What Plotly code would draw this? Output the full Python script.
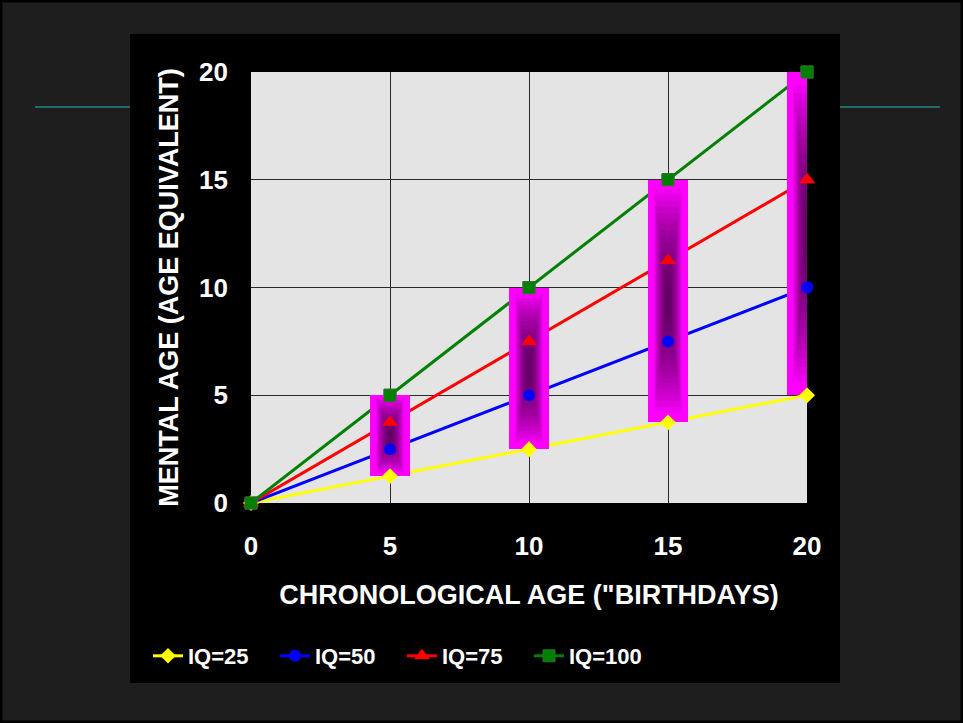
import plotly.graph_objects as go

# ---- data ----
chron_age = [0, 5, 10, 15, 20]
iq25 = [0, 1.25, 2.5, 3.75, 5]
iq50 = [0, 2.5, 5, 7.5, 10]
iq75 = [0, 3.75, 7.5, 11.25, 15]
iq100 = [0, 5, 10, 15, 20]
bar_x = [5, 10, 15, 20]
series_names = ["IQ=25", "IQ=50", "IQ=75", "IQ=100"]
tick_vals = [0, 5, 10, 15, 20]

# ---- layout geometry (pixels) ----
W, H = 963, 723
PL, PR, PT, PB = 251, 807, 72, 503
pw, ph = PR - PL, PB - PT


def px_x(p):
    return (p - PL) / pw


def px_y(p):
    return (PB - p) / ph


FONT = "Arial, Liberation Sans, sans-serif"
series = [iq25, iq50, iq75, iq100]
colors = ["#ffff00", "#0000ff", "#ff0000", "#008000"]
symbols = ["diamond", "circle", "triangle-up", "square"]
msizes = [12, 12, 14, 12]
mlines = [dict(width=0), dict(width=0), dict(width=0), dict(width=1, color="#2f6f2f")]

fig = go.Figure()

# lines (underneath the bars) on the main axes
for s, c, sym, ms, ml, nm in zip(series, colors, symbols, msizes, mlines, series_names):
    fig.add_trace(go.Scatter(
        x=chron_age, y=s, mode="lines+markers", name=nm,
        line=dict(color=c, width=3),
        marker=dict(symbol=sym, size=ms, color=c, line=ml),
        xaxis="x", yaxis="y", cliponaxis=False,
    ))

# high-low bars on overlay axes
low = iq25[1:]
high = iq100[1:]
BW = 1.44
fig.add_trace(go.Bar(
    x=bar_x, y=[h - l for h, l in zip(high, low)], base=low, width=BW,
    marker=dict(color="#ff00ff", line=dict(width=0)),
    showlegend=False, hoverinfo="skip", xaxis="x2", yaxis="y2",
))
# gradient shading (dark purple centre)
n_layers = 18
mids = [(h + l) / 2 for h, l in zip(high, low)]
for k in range(n_layers):
    f = 0.92 - k * 0.048
    hts = [(h - l) * f for h, l in zip(high, low)]
    fig.add_trace(go.Bar(
        x=bar_x, y=hts, base=[m - t / 2 for m, t in zip(mids, hts)], width=BW * f * 0.75,
        marker=dict(color="#3a003a", opacity=0.075, line=dict(width=0)),
        showlegend=False, hoverinfo="skip", xaxis="x2", yaxis="y2",
    ))

# markers above bars
for s, c, sym, ms, ml in zip(series, colors, symbols, msizes, mlines):
    fig.add_trace(go.Scatter(
        x=chron_age, y=s, mode="markers", showlegend=False,
        marker=dict(symbol=sym, size=ms, color=c, line=ml),
        xaxis="x2", yaxis="y2", cliponaxis=False,
    ))

shapes = [
    # outer frame
    dict(type="rect", xref="paper", yref="paper", x0=px_x(0), x1=px_x(W), y0=px_y(H), y1=px_y(0),
         line=dict(color="#000000", width=5), fillcolor="rgba(0,0,0,0)", layer="below"),
    # teal line
    dict(type="line", xref="paper", yref="paper", x0=px_x(35), x1=px_x(940), y0=px_y(107), y1=px_y(107),
         line=dict(color="#2ab5b5", width=1), layer="below"),
    # black chart panel
    dict(type="rect", xref="paper", yref="paper", x0=px_x(130), x1=px_x(840), y0=px_y(683), y1=px_y(34),
         line=dict(width=0), fillcolor="#000000", layer="below"),
    # plot area (light gray)
    dict(type="rect", xref="paper", yref="paper", x0=0, x1=1, y0=0, y1=1,
         line=dict(width=0), fillcolor="#e4e4e4", layer="below"),
]

axis_common = dict(range=[0, 20], tickvals=tick_vals, showline=False, zeroline=False,
                   fixedrange=True)
tfont = dict(size=26, family=FONT, color="#ffffff", weight="bold")
ttfont = dict(size=27, family=FONT, color="#ffffff", weight="bold")

fig.update_layout(
    width=W, height=H,
    margin=dict(l=PL, r=W - PR, t=PT, b=H - PB, pad=0),
    paper_bgcolor="#1e1e1e",
    plot_bgcolor="#e4e4e4",
    barmode="overlay",
    bargap=0,
    shapes=shapes,
    font=dict(family=FONT, color="#ffffff"),
    xaxis=dict(**axis_common, showgrid=True, gridcolor="#2a2a2a", gridwidth=1,
               tickfont=tfont, ticks="", ticklabelstandoff=25,
               title=dict(text='CHRONOLOGICAL AGE ("BIRTHDAYS)', standoff=25, font=ttfont),
               automargin=False),
    yaxis=dict(**axis_common, showgrid=True, gridcolor="#2a2a2a", gridwidth=1,
               tickfont=tfont, ticks="", ticklabelstandoff=22,
               title=dict(text="MENTAL AGE (AGE EQUIVALENT)", standoff=12, font=ttfont),
               automargin=False),
    xaxis2=dict(**axis_common, overlaying="x", showgrid=False, showticklabels=False),
    yaxis2=dict(**axis_common, overlaying="y", showgrid=False, showticklabels=False),
    legend=dict(orientation="h", x=px_x(148), xanchor="left", y=px_y(656), yanchor="middle",
                bgcolor="rgba(0,0,0,0)", font=dict(size=22, family=FONT, color="#ffffff", weight="bold"),
                entrywidth=82, itemwidth=30, tracegroupgap=0),
    showlegend=True,
)

fig.write_html("out.html")
